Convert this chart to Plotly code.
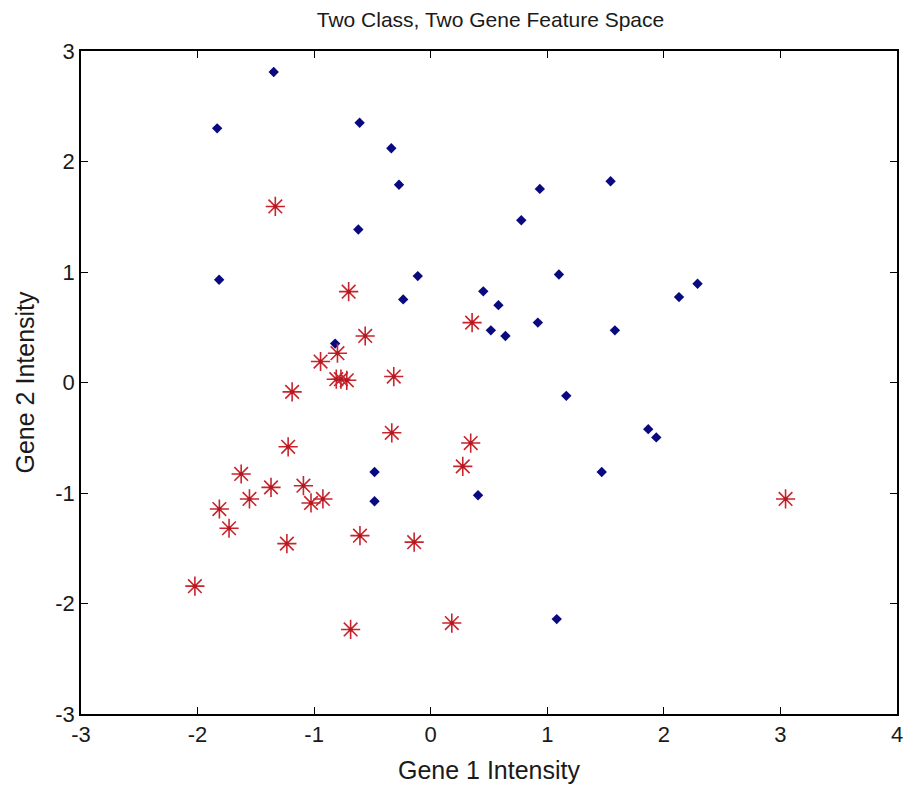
import plotly.graph_objects as go

# Class 1 (blue dots)
blue_x = [-1.347, -1.832, -0.610, -0.338, -0.272, -0.621, -1.815, -0.111, -0.236, 0.451,
          0.581, 0.516, 0.641, -0.820, 0.936, 0.777, 1.543, 1.100, 0.919, 1.580,
          2.130, 2.289, 1.163, 1.866, 1.935, 1.467, 0.406, 1.081, -0.482, -0.482]
blue_y = [2.81, 2.30, 2.35, 2.12, 1.79, 1.385, 0.93, 0.963, 0.752, 0.825,
          0.70, 0.472, 0.421, 0.352, 1.752, 1.469, 1.821, 0.978, 0.542, 0.472,
          0.773, 0.894, -0.121, -0.422, -0.497, -0.810, -1.021, -2.141, -0.810, -1.075]

# Class 2 (red stars)
red_x = [-1.333, -0.704, -0.562, 0.355, -0.800, -0.945, -0.81, -0.77, -0.72, -0.317,
         -1.189, -0.334, -1.223, 0.343, 0.275, -1.626, -1.370, -1.092, -1.555, -0.925,
         -1.027, -1.813, -1.730, -1.234, -0.607, -0.142, -2.023, -0.687, 0.181, 3.044]
red_y = [1.593, 0.822, 0.421, 0.542, 0.265, 0.19, 0.03, 0.03, 0.02, 0.054,
         -0.085, -0.455, -0.582, -0.548, -0.759, -0.828, -0.949, -0.934, -1.054, -1.054,
         -1.090, -1.145, -1.319, -1.458, -1.386, -1.445, -1.843, -2.235, -2.177, -1.054]

x_ticks = [-3, -2, -1, 0, 1, 2, 3, 4]
y_ticks = [-3, -2, -1, 0, 1, 2, 3]

FONT = "Liberation Sans, Arial, sans-serif"
TXT = "#1a1a1a"

fig = go.Figure()
fig.add_trace(go.Scatter(
    x=blue_x, y=blue_y, mode="markers",
    marker=dict(symbol="diamond", size=8, color="#0a0a80", line=dict(width=0)),
    showlegend=False, cliponaxis=False))
fig.add_trace(go.Scatter(
    x=red_x, y=red_y, mode="markers",
    marker=dict(symbol="asterisk-open", size=16, color="#c8242c",
                line=dict(width=1.6, color="#c8242c")),
    showlegend=False, cliponaxis=False))
fig.add_trace(go.Scatter(
    x=red_x, y=red_y, mode="markers",
    marker=dict(symbol="circle", size=4, color="#b01a22", line=dict(width=0)),
    showlegend=False, hoverinfo="skip"))

axis_common = dict(
    showgrid=False, zeroline=False, showline=True, linecolor="black", linewidth=1.5,
    mirror="ticks", ticks="inside", ticklen=7, tickwidth=1.2, tickcolor="black",
    tickfont=dict(family=FONT, size=22, color=TXT),
)

fig.update_layout(
    width=910, height=787,
    paper_bgcolor="white", plot_bgcolor="white",
    margin=dict(l=81, r=7, t=51, b=72),
    title=dict(text="Two Class, Two Gene Feature Space", x=0.539, xanchor="center",
               y=0.975, yanchor="middle",
               font=dict(family=FONT, size=21, color=TXT)),
    xaxis=dict(range=[-3, 4], tickvals=x_ticks, ticktext=[str(v) for v in x_ticks],
               title=dict(text="Gene 1 Intensity", standoff=15,
                          font=dict(family=FONT, size=25, color=TXT)),
               **axis_common),
    yaxis=dict(range=[-3, 3], tickvals=y_ticks, ticktext=[str(v) for v in y_ticks],
               title=dict(text="Gene 2 Intensity", standoff=14,
                          font=dict(family=FONT, size=25, color=TXT)),
               **axis_common),
)

fig.write_html("out.html")
